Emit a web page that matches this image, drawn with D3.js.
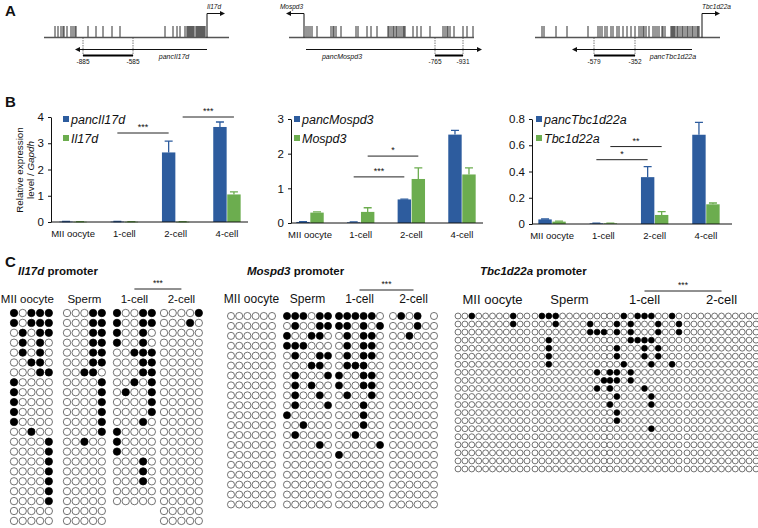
<!DOCTYPE html>
<html><head><meta charset="utf-8">
<script src="https://cdn.jsdelivr.net/npm/d3@7"></script>
<style>
body{margin:0;background:#fff}
svg{display:block}
text{font-family:"Liberation Sans",Arial,Helvetica,sans-serif;fill:#111}
</style>
</head><body>
<svg id="c" width="758" height="528"></svg>
<script>
// ================= DATA =================
// Panel A: gene maps (positions in map units along each 185-unit map)
const il17dCpG = [11,14,17,19,20,23,27,29,31,32,44,52,59,68,76,121,129,133,136,141,143,144,145,146,147,148,149,150,152,153,154,155,156,157,158,159,160,161];
const mospd3CpG = [17,19,21,23,28,42,44,45,47,52,67,69,78,82,88,99,100,102,104,105,107,108,110,112,114,115,116,124,128,132,141,154,156,158,159,161,165,174,178,184];
const tbcCpG = [7,9,21,32,53,63,65,67,70,72,76,78,82,84,88,92,96,100,104,106,108,109,111,114,118,120,122,124,127,128,130,136,137,138,139,140,142,143,145,147,148,150,152,153,155,157,158,160,162,163,164];
const geneNames = ["Il17d","Mospd3","Tbc1d22a"];
const pancNames = ["pancIl17d","pancMospd3","pancTbc1d22a"];
const tssPos = [163, 15, 167];
const tssDir = [1, -1, 1];
const pancFrom = [163, 17, 157];
const pancTo = [35, 189, 41];
const pancLabelPos = [130, 53, 138];
const ampliconStart = [39, 146, 59];
const ampliconEnd = [89, 174, 100];
const ampliconStartLabels = ["-885","-765","-579"];
const ampliconEndLabels = ["-585","-931","-352"];

// Panel B: expression
const categories = ["MII oocyte","1-cell","2-cell","4-cell"];
const il17dPanc = [0.015, 0.015, 2.65, 3.62];
const il17dPancErr = [0.005, 0.005, 0.43, 0.19];
const il17dGene = [0.01, 0.01, 0.01, 1.05];
const il17dGeneErr = [0.003, 0.003, 0.003, 0.10];
const mospd3Panc = [0.03, 0.02, 0.68, 2.55];
const mospd3PancErr = [0.01, 0.01, 0.01, 0.12];
const mospd3Gene = [0.30, 0.32, 1.27, 1.40];
const mospd3GeneErr = [0.02, 0.12, 0.32, 0.19];
const tbcPanc = [0.035, 0.005, 0.357, 0.68];
const tbcPancErr = [0.003, 0.001, 0.08, 0.095];
const tbcGene = [0.018, 0.005, 0.069, 0.15];
const tbcGeneErr = [0.004, 0.001, 0.025, 0.01];
const il17dTicks = [0,1,2,3,4];
const mospd3Ticks = [0,1,2,3];
const tbcTicks = [0,0.2,0.4,0.6,0.8];
// significance: [series, from, to, level, label]
const il17dSig = [["panc","1-cell","2-cell",3.39,"***"],["gene","2-cell","4-cell",4.0,"***"]];
const mospd3Sig = [["panc","1-cell","2-cell",1.33,"***"],["gene","1-cell","2-cell",1.93,"*"]];
const tbcSig = [["panc","1-cell","2-cell",0.49,"*"],["gene","1-cell","2-cell",0.59,"**"]];

// Panel C: bisulfite methylation (1 = methylated, 0 = unmethylated, - = missing)
const stages = ["MII oocyte","Sperm","1-cell","2-cell"];
const il17dMII = ["10111","10111","01011","01010","01010","00110","00011","10000","10000","10000","10000","10000","00100","00001","00001","00001","00001","00001","00001","00001","00000","00000"];
const il17dSperm = ["00011","00011","00011","00011","00011","00011","00110","00001","00001","00001","00001","00001","00001","00100","00000","00000","00000","00000","00000","00000","00000","00000"];
const il17d1cell = ["10011","10011","10010","10010","00111","00011","00011","00101","01001","00001","00001","00010","10000","10000","10000","00010","00010","00010","00000","00000"];
const il17d2cell = ["00001","00010","00000","00000","00000","00000","00000","00000","00000","00000","00000","00000","00000","00000","00000","00000","00000","00000","00000","00000","00000","00000"];
const mospd3MII = ["000000","000000","000000","000000","000000","000000","000000","000000","000000","000000","000000","000000","000000","000000","000000","000000","000000","000000","000000","000000"];
const mospd3Sperm = ["111011","010011","100110","111000","010011","000110","010001","010100","010010","010001","100000","001000","010000","000010","000000","000000","000000","000000","000000","000000"];
const mospd31cell = ["111110","110101","010110","010110","010110","011100","100110","100110","010010","000100","000100","000100","001000","000001","100000","000000","000000","000000","000000","000000"];
const mospd32cell = ["0101-0","000100","001000","000000","000000","000000","000000","000000","000000","000000","000000","000000","000000","000000","000000","000000","000000","000000","000000","000000"];
const tbcMII = ["00100000100","00000000100","00000000000","00000000000","00000000000","00000000000","00000000000","00000000000","00000000000","00000000000","00000000000","00000000000","00000000000","00000000000","00000000000","00000000000","00000000000","00000000000","00000000000","00000000000"];
const tbcSperm = ["01110000000","00010000100","00000000111","00100000000","00100000000","00100000000","00100000000","00000000010","00000000001","00000000010","00000000000","00000000000","00000000000","00000000000","00000000000","00000000000","00000000000","00000000000","00000000000","00000000000"];
const tbc1cell = ["00101110010","01010001001","01010001001","00011110000","01000101000","01000101000","00100010010","11010000000","11010000000","10000100000","01000010000","10000010000","01000000000","01000000000","00000010000","00000000000","00000000000","00000000000","00000000000","00000000000"];
const tbc2cell = ["00000000000","00000000000","00000000000","00000000000","00000000000","00000000000","00000000000","00000000000","00000000000","00000000000","00000000000","00000000000","00000000000","00000000000","00000000000","00000000000","00000000000","00000000000","00000000000","00000000000"];

// ================= DRAW =================
const svg = d3.select("#c");
svg.append("rect").attr("width",758).attr("height",528).attr("fill","#fff");
const defs = svg.append("defs");
defs.append("marker").attr("id","ah").attr("viewBox","0 0 10 10").attr("refX",2).attr("refY",5)
  .attr("markerWidth",6).attr("markerHeight",5).attr("markerUnits","userSpaceOnUse").attr("orient","auto")
  .append("path").attr("d","M0,0 L10,5 L0,10 Z").attr("fill","#111");

function panelLabel(t,x,y){ svg.append("text").attr("x",x).attr("y",y).attr("font-size",15).attr("font-weight","bold").text(t); }
panelLabel("A",5,16); panelLabel("B",5,107); panelLabel("C",5,267);

// ---- Panel A
const mapX0 = [44, 289, 535];
const cpgSets = [il17dCpG, mospd3CpG, tbcCpG];
cpgSets.forEach((cpg,i)=>{
  const g = svg.append("g");
  const x = d3.scaleLinear().domain([0,185]).range([mapX0[i], mapX0[i]+185]);
  const yb = 37.5;
  g.selectAll("line.cpg").data(cpg).join("line").attr("class","cpg")
    .attr("x1",d=>x(d)).attr("x2",d=>x(d)).attr("y1",26).attr("y2",yb)
    .attr("stroke","#1a1a1a").attr("stroke-width",0.9);
  g.append("line").attr("x1",x(0)).attr("x2",x(185)).attr("y1",yb).attr("y2",yb)
    .attr("stroke","#555").attr("stroke-width",1.3);
  // TSS arrow
  const tx = x(tssPos[i]);
  g.append("path").attr("d",`M${tx},${yb} V13.5 H${tx+tssDir[i]*14}`).attr("fill","none")
    .attr("stroke","#111").attr("stroke-width",1).attr("marker-end","url(#ah)");
  g.append("text").attr("x", tssDir[i]>0 ? tx : tx-1).attr("y",8.5)
    .attr("text-anchor", tssDir[i]>0 ? "start" : "end")
    .attr("font-size",6.5).attr("font-style","italic").text(geneNames[i]);
  // amplicon
  [ampliconStart[i], ampliconEnd[i]].forEach((p,k)=>{
    g.append("line").attr("x1",x(p)).attr("x2",x(p)).attr("y1",yb).attr("y2",55.5)
      .attr("stroke","#444").attr("stroke-width",0.7).attr("stroke-dasharray","1.5,1");
    g.append("text").attr("x",x(p)).attr("y",64).attr("text-anchor","middle").attr("font-size",6.5)
      .text(k===0 ? ampliconStartLabels[i] : ampliconEndLabels[i]);
  });
  g.append("line").attr("x1",x(ampliconStart[i])).attr("x2",x(ampliconEnd[i])).attr("y1",55.5).attr("y2",55.5)
    .attr("stroke","#000").attr("stroke-width",2);
  // pancRNA arrow
  g.append("line").attr("x1",x(pancFrom[i])).attr("x2",x(pancTo[i])).attr("y1",49.5).attr("y2",49.5)
    .attr("stroke","#111").attr("stroke-width",1.2).attr("marker-end","url(#ah)");
  g.append("text").attr("x",x(pancLabelPos[i])).attr("y",58.5).attr("text-anchor","middle")
    .attr("font-size",7).attr("font-style","italic").text(pancNames[i]);
});

// ---- Panel B
const BLUE = "#2d5c9e", GREEN = "#6cad4f";
function barChart(o){
  const g = svg.append("g");
  const y = d3.scaleLinear().domain([0,o.yMax]).range([o.yBot,o.yTop]);
  const x = d3.scalePoint().domain(categories).range(o.band).padding(0.5);
  const xs = d3.scaleBand().domain(["panc","gene"]).range([-14,14]);
  const series = [
    {key:"panc", vals:o.panc, errs:o.pancErr, color:BLUE},
    {key:"gene", vals:o.gene, errs:o.geneErr, color:GREEN}
  ];
  series.forEach(s=>{
    const data = categories.map((c,i)=>({c, v:s.vals[i], e:s.errs[i]}));
    g.selectAll(null).data(data).join("rect")
      .attr("x",d=>x(d.c)+xs(s.key)+0.3).attr("width",xs.bandwidth()-0.6)
      .attr("y",d=>y(d.v)).attr("height",d=>Math.max(0.6,y(0)-y(d.v)))
      .attr("fill",s.color);
    g.selectAll(null).data(data).join("path")
      .attr("d",d=>{const cx=x(d.c)+xs(s.key)+xs.bandwidth()/2; return `M${cx},${y(d.v)} V${y(d.v+d.e)} M${cx-4},${y(d.v+d.e)} H${cx+4}`;})
      .attr("stroke",s.color).attr("stroke-width",1.3).attr("fill","none");
  });
  // axes
  const ya = g.append("g").attr("transform",`translate(${o.px0},0)`)
    .call(d3.axisLeft(y).tickValues(o.ticks).tickFormat(o.fmt).tickSize(3).tickSizeOuter(0).tickPadding(4));
  ya.selectAll("text").attr("font-size",11.5).attr("font-family",'"Liberation Sans",Arial,sans-serif').attr("fill","#111");
  ya.selectAll("line,path").attr("stroke","#111");
  g.append("line").attr("x1",o.px0).attr("x2",o.px1).attr("y1",y(0)).attr("y2",y(0)).attr("stroke","#111").attr("stroke-width",1);
  g.selectAll(null).data(categories).join("text")
    .attr("x",d=>x(d)).attr("y",y(0)+15).attr("text-anchor","middle").attr("font-size",9.5).text(d=>d);
  // significance
  o.sig.forEach(s=>{
    const x1 = x(s[1])+xs(s[0])+xs.bandwidth()/2, x2 = x(s[2])+xs(s[0])+xs.bandwidth()/2, yy = y(s[3]);
    g.append("line").attr("x1",x1).attr("x2",x2).attr("y1",yy).attr("y2",yy).attr("stroke","#222").attr("stroke-width",1);
    g.append("text").attr("x",(x1+x2)/2).attr("y",yy-3).attr("text-anchor","middle").attr("font-size",9).text(s[4]);
  });
  // legend
  [[BLUE,o.names[0],123.5],[GREEN,o.names[1],142.5]].forEach(l=>{
    g.append("rect").attr("x",o.legX-3).attr("y",l[2]-7.5).attr("width",6).attr("height",6).attr("fill",l[0]);
    g.append("text").attr("x",o.legX+5).attr("y",l[2]).attr("font-size",12.5).attr("font-style","italic").text(l[1]);
  });
}
barChart({panc:il17dPanc,pancErr:il17dPancErr,gene:il17dGene,geneErr:il17dGeneErr,yMax:4,ticks:il17dTicks,fmt:d3.format("d"),
  px0:51,px1:248,yBot:222,yTop:117,band:[47.4,252.6],sig:il17dSig,names:[pancNames[0],geneNames[0]],legX:66});
barChart({panc:mospd3Panc,pancErr:mospd3PancErr,gene:mospd3Gene,geneErr:mospd3GeneErr,yMax:3,ticks:mospd3Ticks,fmt:d3.format("d"),
  px0:291,px1:483,yBot:223,yTop:119,band:[284.7,487.3],sig:mospd3Sig,names:[pancNames[1],geneNames[1]],legX:297});
barChart({panc:tbcPanc,pancErr:tbcPancErr,gene:tbcGene,geneErr:tbcGeneErr,yMax:0.8,ticks:tbcTicks,fmt:d=>d===0?"0":d3.format(".1f")(d),
  px0:532,px1:732,yBot:224,yTop:119,band:[526.4,731.6],sig:tbcSig,names:[pancNames[2],geneNames[2]],legX:539});
// y title
const yt = svg.append("text").attr("transform","translate(23,170) rotate(-90)").attr("text-anchor","middle").attr("font-size",9.8);
yt.text("Relative expression");
const yt2 = svg.append("text").attr("transform","translate(34,170) rotate(-90)").attr("text-anchor","middle").attr("font-size",9.8);
yt2.append("tspan").text("level / ");
yt2.append("tspan").attr("font-style","italic").text("Gapdh");

// ---- Panel C
function methPanel(o){
  const g = svg.append("g");
  const t = g.append("text").attr("x",o.titleX).attr("y",275).attr("font-size",11.5).attr("font-weight","bold");
  t.append("tspan").attr("font-style","italic").text(o.gene);
  t.append("tspan").text(" promoter");
  o.centers = [];
  o.samples.forEach((rows,k)=>{
    const nCol = rows[0].length;
    const gx = o.groupX[k];
    const cx = d3.scaleLinear().domain([0,nCol-1]).range([gx, gx+(nCol-1)*o.dx]);
    const cy = d3.scaleLinear().domain([0,1]).range([o.y0, o.y0+o.dy]);
    const cells = [];
    rows.forEach((r,ri)=>r.split("").forEach((ch,ci)=>{ if(ch!=="-") cells.push({ri,ci,m:ch==="1"}); }));
    g.selectAll(null).data(cells).join("circle")
      .attr("cx",d=>cx(d.ci)).attr("cy",d=>cy(d.ri)).attr("r",o.r)
      .attr("fill",d=>d.m?"#000":"#fff").attr("stroke",d=>d.m?"#000":"#444").attr("stroke-width",0.75);
    const center = gx+(nCol-1)*o.dx/2;
    g.append("text").attr("x",center + (o.headShift?o.headShift[k]:0)).attr("y",o.headY).attr("text-anchor","middle")
      .attr("font-size",o.headSize).text(stages[k]);
    o.centers[k]=center;
  });
  const x1=o.centers[2], x2=o.centers[3];
  g.append("line").attr("x1",x1).attr("x2",x2).attr("y1",o.sigY).attr("y2",o.sigY).attr("stroke","#222").attr("stroke-width",1);
  g.append("text").attr("x",(x1+x2)/2).attr("y",o.sigY-3).attr("text-anchor","middle").attr("font-size",8.5).text("***");
}
methPanel({gene:"Il17d",titleX:18,samples:[il17dMII,il17dSperm,il17d1cell,il17d2cell],groupX:[14,67,117,164],dx:8.7,
  y0:313,dy:9.9,r:3.7,headY:303,headSize:11.5,sigY:289,headShift:[-4,0,0,0]});
methPanel({gene:"Mospd3",titleX:247,samples:[mospd3MII,mospd3Sperm,mospd31cell,mospd32cell],groupX:[231,287,339,393],dx:8.2,
  y0:316,dy:9.92,r:3.55,headY:303,headSize:12,sigY:290});
methPanel({gene:"Tbc1d22a",titleX:480,samples:[tbcMII,tbcSperm,tbc1cell,tbc2cell],groupX:[458,535,610,687],dx:6.9,
  y0:316,dy:8.05,r:2.95,headY:304,headSize:13,sigY:291});
</script>
</body></html>
